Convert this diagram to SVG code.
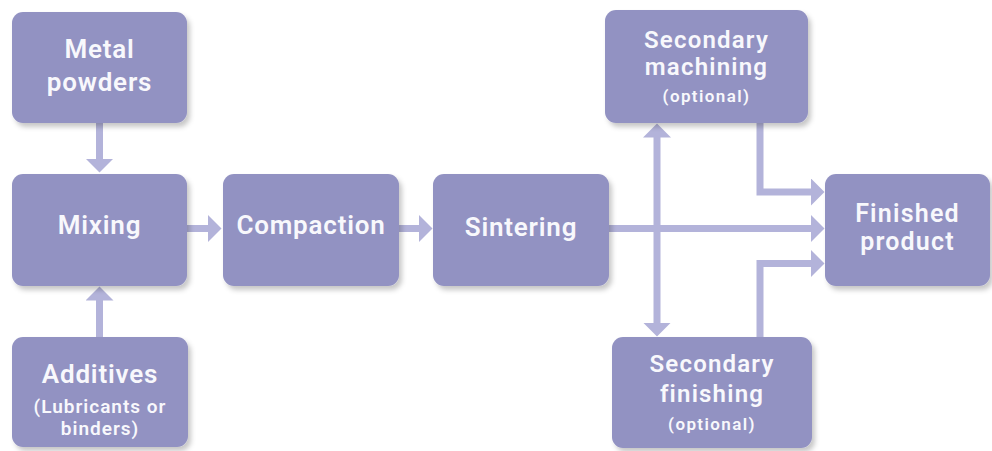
<svg xmlns="http://www.w3.org/2000/svg" width="992" height="451" viewBox="0 0 992 451">
  <style>
    .box { fill: #9292c2; filter: url(#sh); }
    .t { font-family: Roboto, "Liberation Sans", sans-serif; font-weight: 600; font-size: 26px; letter-spacing: 0.8px; fill: #f8f8fc; text-anchor: middle; }
    .m { font-size: 24px; letter-spacing: 1.2px; }
    .s { font-family: Roboto, "Liberation Sans", sans-serif; font-weight: 600; font-size: 17px; letter-spacing: 1.4px; fill: #f8f8fc; text-anchor: middle; }
    .c { fill: none; stroke: #b3b3da; stroke-width: 7; marker-end: url(#ah); }
  </style>
  <defs>
    <filter id="sh" x="-10%" y="-10%" width="125%" height="130%">
      <feDropShadow dx="3" dy="4" stdDeviation="2.5" flood-color="#000" flood-opacity="0.22"/>
    </filter>
    <marker id="ah" markerUnits="userSpaceOnUse" markerWidth="15" markerHeight="28" refX="0.5" refY="14" orient="auto-start-reverse">
      <path d="M0,0 L14,14 L0,28 Z" fill="#b3b3da"/>
    </marker>
  </defs>
  <rect width="992" height="451" fill="#ffffff"/>

  <g id="connectors">
    <path class="c" d="M99.5,123 V159"/>
    <path class="c" d="M99.5,337 V300"/>
    <path class="c" d="M187,228.5 H208"/>
    <path class="c" d="M399,228.5 H419"/>
    <path class="c" d="M609,228.5 H811"/>
    <path class="c" d="M657,137 V323" style="marker-start:url(#ah)"/>
    <path class="c" d="M760,123 V192 H811"/>
    <path class="c" d="M760,337 V263.5 H811"/>
  </g>

  <g id="metal-powders">
    <rect class="box" x="12" y="12" width="175" height="111" rx="11"/>
    <text class="t" x="99.5" y="58">Metal</text>
    <text class="t" x="99.5" y="91">powders</text>
  </g>
  <g id="mixing">
    <rect class="box" x="12" y="174" width="175" height="112" rx="11"/>
    <text class="t" x="99.5" y="234">Mixing</text>
  </g>
  <g id="additives">
    <rect class="box" x="12" y="337" width="176" height="110" rx="11"/>
    <text class="t" x="100" y="383">Additives</text>
    <text class="s" x="100" y="413" style="font-size:19px;letter-spacing:1px">(Lubricants or</text>
    <text class="s" x="100" y="435" style="font-size:19px;letter-spacing:1px">binders)</text>
  </g>
  <g id="compaction">
    <rect class="box" x="223" y="174" width="176" height="112" rx="11"/>
    <text class="t" x="311" y="234">Compaction</text>
  </g>
  <g id="sintering">
    <rect class="box" x="433" y="174" width="176" height="112" rx="11"/>
    <text class="t" x="521" y="236">Sintering</text>
  </g>
  <g id="secondary-machining">
    <rect class="box" x="605" y="10" width="203" height="113" rx="11"/>
    <text class="t m" x="706.5" y="48">Secondary</text>
    <text class="t m" x="706.5" y="75">machining</text>
    <text class="s" x="706.5" y="102">(optional)</text>
  </g>
  <g id="secondary-finishing">
    <rect class="box" x="612" y="337" width="200" height="111" rx="11"/>
    <text class="t m" x="712" y="372">Secondary</text>
    <text class="t m" x="712" y="402">finishing</text>
    <text class="s" x="712" y="430">(optional)</text>
  </g>
  <g id="finished-product">
    <rect class="box" x="825" y="174" width="165" height="112" rx="11"/>
    <text class="t" x="907.5" y="222" style="font-size:25px;letter-spacing:1.2px">Finished</text>
    <text class="t" x="907.5" y="250" style="font-size:25px;letter-spacing:1.2px">product</text>
  </g>
</svg>
